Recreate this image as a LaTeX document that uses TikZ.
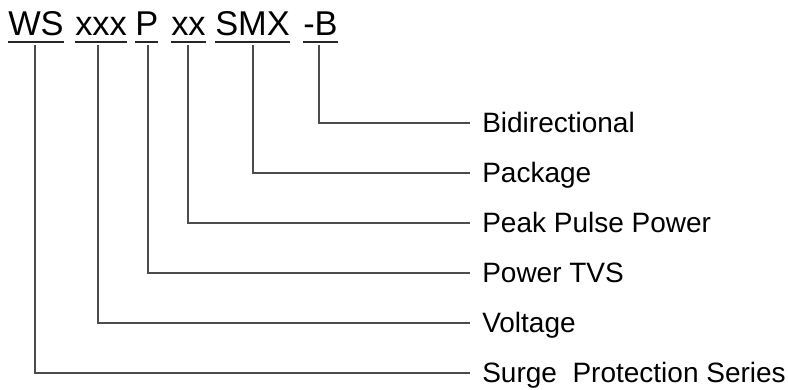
\documentclass[tikz,border=0pt]{standalone}
\usepackage{fontspec}
\setmainfont{Liberation Sans}
\begin{document}
\begin{tikzpicture}[x=0.75pt,y=-0.75pt,
  code/.style={anchor=base west,inner sep=0pt,font=\fontsize{25.8pt}{30pt}\selectfont},
  lbl/.style={anchor=base west,inner sep=0pt,font=\fontsize{21pt}{25pt}\selectfont},
  uline/.style={line width=1.5pt,black!85},
  conn/.style={line width=0.8pt,black!70}]
\useasboundingbox (0,0) rectangle (788,389);
% code words
\node[code] (ws)  at (8,35)   {WS};
\node[code] (xxx) at (75,35)  {xxx};
\node[code] (p)   at (135,35) {P};
\node[code] (xx)  at (171,35) {xx};
\node[code] (smx) at (215,35) {SMX};
\node[code] (b)   at (303,35) {-B};
\foreach \n in {ws,xxx,p,xx,smx,b}{
  \draw[uline] ([yshift=-5]\n.base west) -- ([yshift=-5]\n.base east);
}
% labels
\node[lbl] (l6) at (482,132) {Bidirectional};
\node[lbl] (l5) at (482,182) {Package};
\node[lbl] (l4) at (482,232) {Peak Pulse Power};
\node[lbl] (l3) at (482,282) {Power TVS};
\node[lbl] (l2) at (482,332) {Voltage};
\node[lbl] (l1) at (482,382) {Surge\ \ Protection Series};
% connector tops
\coordinate (t1) at (35,45);
\coordinate (t2) at (98,45);
\coordinate (t3) at (148,45);
\coordinate (t4) at (188,45);
\coordinate (t5) at (253,45);
\coordinate (t6) at (319,45);
\coordinate (e1) at (470,373);
\coordinate (e2) at (470,323);
\coordinate (e3) at (470,273);
\coordinate (e4) at (470,223);
\coordinate (e5) at (470,173);
\coordinate (e6) at (470,123);
\foreach \i in {1,...,6}{
  \draw[conn] (t\i) |- (e\i);
}
\end{tikzpicture}
\end{document}
